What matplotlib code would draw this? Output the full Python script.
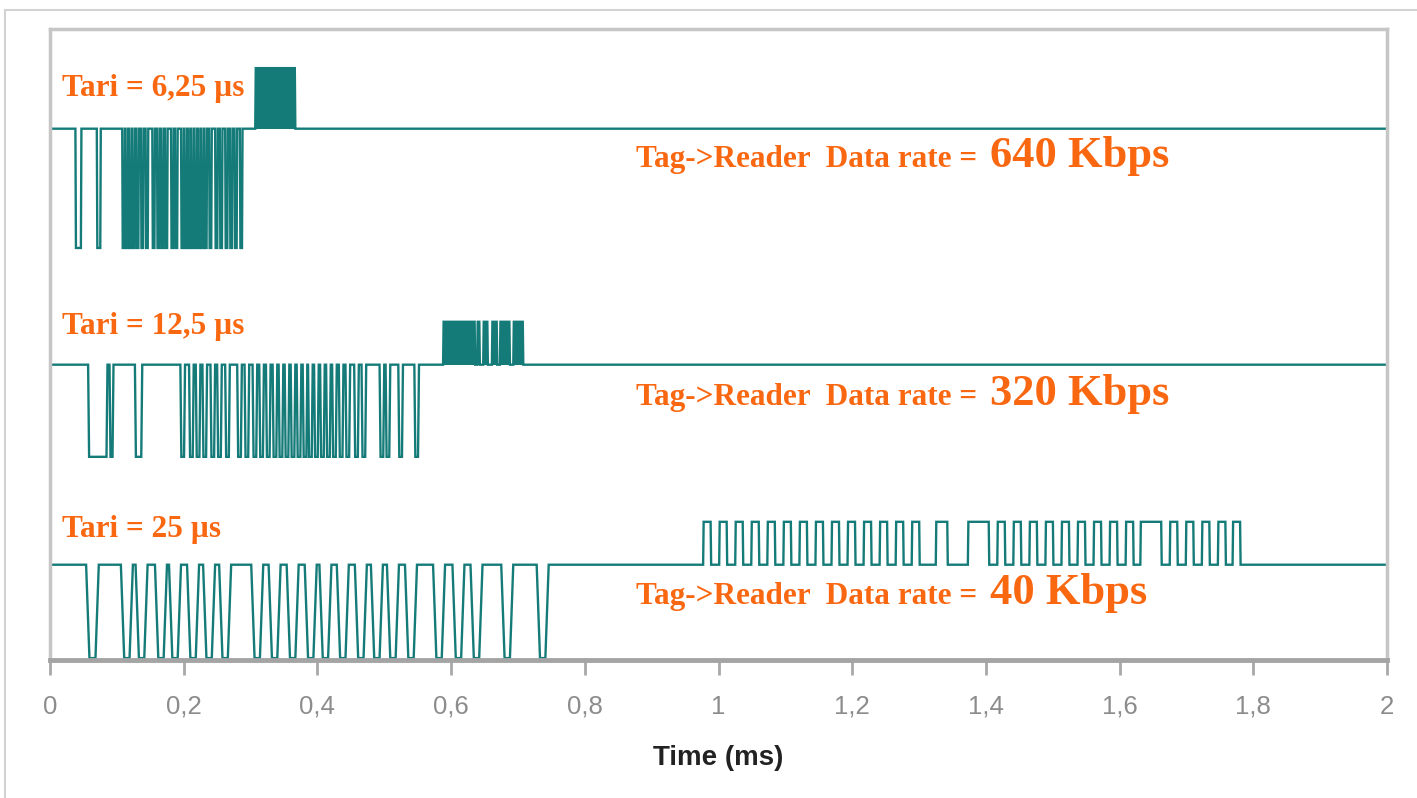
import matplotlib.pyplot as plt
from matplotlib.lines import Line2D

# Time axis (ms)
tick_values = [0, 0.2, 0.4, 0.6, 0.8, 1.0, 1.2, 1.4, 1.6, 1.8, 2.0]
tick_labels = ['0', '0,2', '0,4', '0,6', '0,8', '1', '1,2', '1,4', '1,6', '1,8', '2']

# Signal levels (a.u.): idle carrier, reader gap, tag backscatter
levels_640 = [8.42, 6.53, 9.38]
levels_320 = [4.68, 3.22, 5.36]
levels_40 = [1.51, 0.03, 2.19]

# Reader command gaps (start, end) in ms
gaps_640 = [(0.038, 0.047), (0.070, 0.076),
            (0.108, 0.112), (0.113, 0.117), (0.118, 0.122), (0.123, 0.127),
            (0.129, 0.133), (0.136, 0.140), (0.143, 0.147), (0.153, 0.157),
            (0.160, 0.164), (0.166, 0.170), (0.172, 0.176), (0.181, 0.185),
            (0.187, 0.191), (0.196, 0.200), (0.201, 0.205), (0.206, 0.210),
            (0.211, 0.215), (0.216, 0.220), (0.221, 0.225), (0.226, 0.230),
            (0.231, 0.235), (0.238, 0.242), (0.247, 0.251), (0.254, 0.258),
            (0.262, 0.266), (0.269, 0.273), (0.276, 0.280), (0.284, 0.288)]
gaps_320 = [(0.057, 0.086), (0.089, 0.095), (0.127, 0.138),
            (0.195, 0.202), (0.208, 0.215), (0.218, 0.225), (0.228, 0.235),
            (0.240, 0.247), (0.250, 0.257), (0.262, 0.269), (0.280, 0.287),
            (0.291, 0.298), (0.303, 0.310), (0.313, 0.320), (0.323, 0.330),
            (0.333, 0.340), (0.342, 0.349), (0.351, 0.358), (0.360, 0.367),
            (0.369, 0.376), (0.378, 0.385), (0.386, 0.393), (0.395, 0.402),
            (0.404, 0.411), (0.413, 0.420), (0.422, 0.429), (0.432, 0.439),
            (0.442, 0.449), (0.455, 0.462), (0.466, 0.473), (0.493, 0.500),
            (0.502, 0.509), (0.521, 0.528), (0.545, 0.552)]
gaps_40 = [(0.054, 0.073), (0.106, 0.124), (0.128, 0.146), (0.157, 0.175),
           (0.178, 0.196), (0.205, 0.223), (0.229, 0.247), (0.253, 0.271),
           (0.301, 0.319), (0.327, 0.345), (0.354, 0.372), (0.381, 0.399),
           (0.403, 0.421), (0.429, 0.447), (0.456, 0.474), (0.480, 0.498),
           (0.504, 0.522), (0.531, 0.549), (0.573, 0.591), (0.602, 0.620),
           (0.629, 0.647), (0.675, 0.693), (0.728, 0.746)]

# Tag reply bursts (start, end) in ms
reply_640 = [(0.307, 0.367)]
reply_320 = [(0.588, 0.636), (0.639, 0.643), (0.648, 0.655), (0.661, 0.669),
             (0.673, 0.688), (0.693, 0.708)]
reply_40 = [(0.977, 0.989), (1.001, 1.013), (1.025, 1.037), (1.049, 1.061),
            (1.073, 1.085), (1.097, 1.109), (1.121, 1.133), (1.145, 1.157),
            (1.169, 1.181), (1.193, 1.205), (1.217, 1.229), (1.241, 1.253),
            (1.265, 1.277), (1.289, 1.301), (1.325, 1.343), (1.373, 1.405),
            (1.417, 1.429), (1.441, 1.453), (1.465, 1.477), (1.489, 1.501),
            (1.513, 1.525), (1.537, 1.549), (1.561, 1.573), (1.585, 1.597),
            (1.609, 1.621), (1.631, 1.663), (1.675, 1.687), (1.699, 1.711),
            (1.723, 1.735), (1.747, 1.759), (1.769, 1.781)]

tari_labels = ['Tari = 6,25 µs', 'Tari = 12,5 µs', 'Tari = 25 µs']
rate_labels = ['640 Kbps', '320 Kbps', '40 Kbps']

TEAL = '#157b79'
ORANGE = '#fa6711'
W, H = 1417, 798


def envelope(levels, gaps, reply, ramp, t_end=2.0):
    base, low, high = levels
    events = sorted([(s, e, low, ramp) for s, e in gaps] +
                    [(s, e, high, 0.0008) for s, e in reply])
    xs, ys = [0.0], [base]
    for s, e, lvl, r in events:
        xs += [s, s + r, e - r, e]
        ys += [base, lvl, lvl, base]
    xs.append(t_end)
    ys.append(base)
    return xs, ys


fig = plt.figure(figsize=(W / 100, H / 100), dpi=100)
ax = fig.add_axes([50 / W, 1 - 660 / H, 1337 / W, 631 / H])

traces = [(levels_640, gaps_640, reply_640, 0.0008, True),
          (levels_320, gaps_320, reply_320, 0.0015, True),
          (levels_40, gaps_40, reply_40, 0.005, False)]
for levels, gaps, reply, ramp, solid in traces:
    xs, ys = envelope(levels, gaps, reply, ramp)
    ax.plot(xs, ys, color=TEAL, lw=1.7, solid_joinstyle='miter')
    if solid:
        for s, e in reply:
            ax.fill_between([s, e], levels[0], levels[2], color=TEAL, lw=0)

ax.set_xlim(0, 2)
ax.set_ylim(0, 10)
ax.set_yticks([])
ax.set_xticks(tick_values)
ax.set_xticklabels(tick_labels, family='Liberation Sans')
ax.tick_params(axis='x', direction='out', length=11, width=2, color='#a8a8a8',
               labelcolor='#8c8c8c', labelsize=18.5, pad=14)
for side in ['left', 'top', 'right']:
    ax.spines[side].set_color('#c6c6c6')
    ax.spines[side].set_linewidth(2.5)
ax.spines['bottom'].set_color('#a4a4a4')
ax.spines['bottom'].set_linewidth(3.5)
ax.set_xlabel('Time (ms)', family='Liberation Sans', fontweight='bold',
              fontsize=20, color='#222222', labelpad=19)

# Annotations for each trace
tari_y = [96, 334, 537]
rate_y = [167, 405, 604]
for lab, y in zip(tari_labels, tari_y):
    fig.text(62 / W, 1 - y / H, lab, family='Liberation Serif', fontweight='bold',
             fontsize=22.5, color=ORANGE, va='baseline')
for lab, y in zip(rate_labels, rate_y):
    fig.text(636 / W, 1 - y / H, 'Tag->Reader  Data rate = ', family='Liberation Serif',
             fontweight='bold', fontsize=22.5, color=ORANGE, va='baseline')
    fig.text(990 / W, 1 - y / H, lab, family='Liberation Serif', fontweight='bold',
             fontsize=32, color=ORANGE, va='baseline')

# Outer frame
fig.add_artist(Line2D([5 / W, 1], [1 - 10 / H] * 2, color='#d2d2d2', lw=1.5))
fig.add_artist(Line2D([5 / W] * 2, [0, 1 - 10 / H], color='#d2d2d2', lw=1.5))

fig.savefig('out.png', dpi=100)
